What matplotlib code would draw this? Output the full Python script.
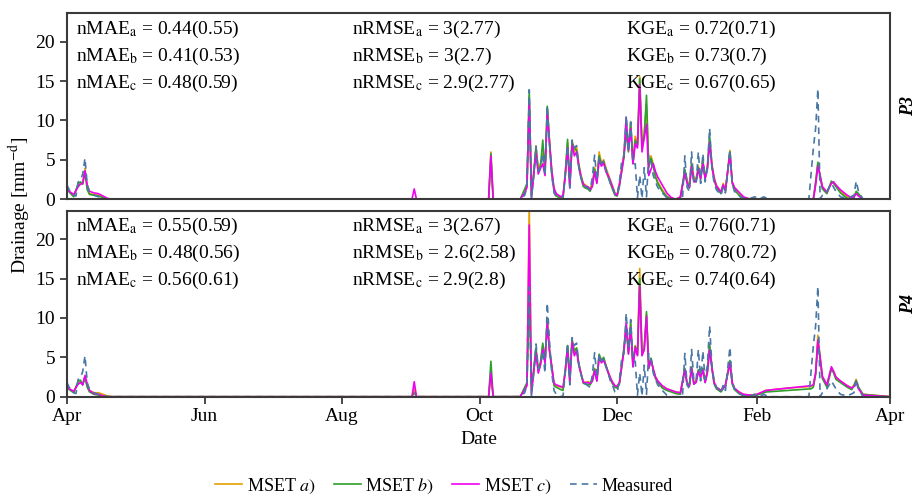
import numpy as np
import matplotlib.pyplot as plt
import matplotlib.dates as mdates

plt.rcParams['font.family'] = ['Liberation Serif', 'DejaVu Serif']
plt.rcParams['mathtext.fontset'] = 'stix'

# day offsets from 1 April (shared by the simulated series of both panels)
days = ([0, 1, 3, 5, 6, 7, 8, 9, 10, 12, 14, 16, 18, 20]
        + [153, 154, 155, 187, 188, 189]
        + [201, 203, 204, 205, 206, 207, 208, 209, 210, 211, 212, 213, 214, 215, 216, 217, 219, 220]
        + list(range(221, 246))
        + list(range(246, 263)) + [264, 266, 268, 270, 272]
        + list(range(274, 289)) + [290, 291, 292, 294, 295, 296, 298, 300, 303, 306, 310, 320, 330]
        + [331, 332, 333, 334, 335, 337, 339, 340, 341, 343, 346, 348, 349, 350, 351, 353, 365])

# P3
p3_a = ([1.7, 1.0, 0.4, 1.8, 2.0, 2.1, 3.9, 1.5, 0.7, 0.6, 0.5, 0.2, 0.0, 0.0]
        + [0, 0, 0, 0, 6.0, 0]
        + [0, 1.0, 1.8, 13.0, 0.8, 3.5, 6.8, 3.8, 4.5, 5.8, 3.8, 11.5, 7.5, 3.5, 1.2, 0.6, 0.2, 0.3]
        + [3.5, 7.2, 2.0, 7.5, 6.0, 6.6, 4.5, 3.0, 2.0, 1.8, 1.5, 1.4, 2.0, 4.0, 2.4, 6.0, 4.6, 5.0, 4.0, 3.2, 2.4, 1.6, 0.8, 0.6, 2.0]
        + [4.0, 5.8, 9.0, 6.5, 9.5, 4.7, 8.0, 7.0, 15.6, 6.5, 8.5, 12.0, 4.2, 5.5, 4.5, 3.0, 2.2, 1.2, 0.4, 0.1, 0.0, 0.2]
        + [3.5, 2.5, 1.6, 4.6, 2.8, 2.5, 4.2, 2.8, 5.0, 2.8, 4.2, 7.5, 4.5, 2.8, 1.8, 0.9, 2.0, 1.2, 6.2, 2.2, 1.4, 0.8, 0.2, 0, 0, 0, 0, 0]
        + [0, 2.0, 4.5, 3.0, 1.5, 0.8, 2.2, 2.0, 1.8, 1.0, 0.3, 0.1, 0.4, 0.9, 0.6, 0, 0])
p3_b = ([1.5, 0.9, 0.3, 2.0, 2.2, 1.9, 3.5, 1.2, 0.6, 0.5, 0.4, 0.2, 0.0, 0.0]
        + [0, 0, 0, 0, 5.8, 0]
        + [0, 1.3, 2.0, 13.8, 0.4, 3.0, 6.5, 3.5, 4.2, 7.5, 3.5, 11.8, 7.0, 3.2, 1.0, 0.4, 0.1, 0.2]
        + [3.2, 7.6, 1.8, 7.2, 6.5, 6.2, 4.0, 2.6, 1.6, 1.4, 1.3, 1.0, 1.8, 3.8, 2.1, 5.5, 4.4, 4.8, 3.6, 2.8, 2.0, 1.2, 0.5, 0.4, 1.6]
        + [3.6, 5.3, 8.5, 6.0, 9.8, 4.5, 7.5, 6.8, 15.3, 6.8, 8.0, 13.2, 4.0, 5.2, 4.2, 2.8, 2.0, 1.0, 0.3, 0.0, 0.0, 0.1]
        + [3.8, 2.2, 1.4, 4.4, 2.4, 2.3, 4.0, 2.5, 4.8, 2.6, 4.0, 8.1, 4.2, 2.4, 1.5, 0.7, 1.8, 1.0, 6.0, 2.0, 1.2, 0.5, 0.1, 0, 0, 0, 0, 0]
        + [0, 2.2, 4.7, 2.8, 1.3, 0.7, 2.3, 2.0, 1.6, 0.8, 0.1, 0.0, 0.2, 1.0, 0.7, 0, 0])
p3_c = ([1.2, 1.0, 0.6, 1.6, 1.9, 2.0, 3.6, 1.8, 1.0, 0.8, 0.7, 0.4, 0.1, 0.0]
        + [0, 1.3, 0, 0, 5.5, 0]
        + [0, 0.8, 1.5, 12.5, 0.2, 3.2, 6.0, 3.2, 3.9, 4.5, 3.0, 11.0, 7.2, 3.6, 1.4, 0.7, 0.3, 0.5]
        + [3.0, 6.5, 1.4, 7.0, 5.5, 6.0, 4.2, 2.8, 1.9, 1.6, 1.6, 1.2, 1.6, 3.5, 2.0, 5.0, 4.2, 4.6, 3.5, 3.0, 2.3, 1.5, 0.7, 0.5, 1.9]
        + [3.5, 5.5, 10.4, 6.2, 9.0, 4.5, 7.0, 6.5, 14.5, 6.0, 7.8, 9.5, 3.0, 3.8, 4.5, 3.5, 2.8, 1.8, 0.8, 0.2, 0.0, 0.3]
        + [3.3, 2.0, 1.5, 4.2, 2.2, 2.2, 3.8, 2.6, 4.5, 2.6, 3.8, 7.2, 4.3, 2.6, 1.7, 0.9, 1.8, 1.1, 5.8, 2.2, 1.5, 0.9, 0.3, 0, 0, 0, 0, 0]
        + [0, 1.8, 4.2, 3.0, 1.6, 0.9, 2.0, 2.2, 1.8, 1.2, 0.5, 0.2, 0.3, 0.7, 0.4, 0, 0])

# P4
p4_a = ([1.6, 1.0, 0.6, 1.8, 1.9, 1.6, 2.6, 1.4, 0.8, 0.5, 0.5, 0.3, 0.1, 0]
        + [0, 1.0, 0, 0, 3.0, 0]
        + [0, 1.0, 1.6, 24.5, 0.8, 3.5, 6.0, 3.2, 4.2, 6.5, 4.5, 9.8, 6.0, 3.8, 1.6, 1.4, 1.2, 1.1]
        + [3.5, 6.3, 2.2, 7.4, 5.5, 6.1, 4.2, 3.0, 1.9, 1.8, 1.9, 1.8, 2.2, 3.6, 2.2, 5.2, 4.5, 4.8, 4.0, 3.2, 2.4, 1.8, 1.4, 1.3, 1.8]
        + [4.0, 6.0, 9.0, 5.8, 9.2, 4.0, 6.5, 5.5, 16.3, 5.5, 6.3, 10.5, 3.8, 4.8, 3.5, 2.5, 2.0, 1.3, 1.0, 0.8, 0.6, 0.5]
        + [3.5, 1.8, 1.5, 3.8, 1.8, 2.0, 3.4, 2.6, 3.6, 1.9, 3.2, 6.2, 3.8, 1.8, 1.2, 0.8, 1.2, 1.5, 4.4, 1.8, 1.0, 0.6, 0.3, 0.2, 0.3, 0.8, 1.1, 1.3]
        + [1.5, 3.0, 7.8, 5.0, 2.5, 1.5, 3.7, 3.2, 2.5, 2.0, 1.4, 1.1, 1.5, 2.2, 1.2, 0.3, 0])
p4_b = ([1.4, 0.9, 0.5, 2.0, 2.1, 1.5, 2.4, 1.2, 0.6, 0.3, 0.2, 0.1, 0, 0]
        + [0, 0.5, 0, 0, 4.5, 0]
        + [0, 1.2, 1.8, 13.0, 1.0, 3.3, 6.2, 3.5, 4.4, 6.8, 4.8, 9.5, 5.8, 3.6, 1.4, 1.2, 0.9, 0.8]
        + [3.4, 6.5, 2.0, 7.2, 5.8, 6.2, 4.0, 2.8, 1.7, 1.6, 1.6, 1.5, 2.0, 3.5, 2.0, 5.4, 4.6, 5.0, 4.0, 3.0, 2.2, 1.6, 1.2, 1.1, 1.6]
        + [3.8, 6.2, 8.8, 5.5, 9.5, 3.8, 6.4, 5.3, 15.0, 5.3, 6.0, 10.8, 3.6, 4.9, 3.4, 2.3, 1.8, 1.1, 0.8, 0.6, 0.4, 0.3]
        + [3.6, 1.6, 1.3, 3.7, 1.6, 1.9, 3.4, 2.6, 3.6, 1.8, 3.3, 6.7, 3.6, 1.6, 1.0, 0.6, 1.0, 1.4, 4.6, 1.6, 0.9, 0.4, 0.2, 0.1, 0.2, 0.6, 0.8, 1.0]
        + [1.2, 2.8, 6.8, 4.8, 2.3, 1.2, 3.5, 3.0, 2.2, 1.8, 1.2, 0.9, 1.4, 2.0, 1.2, 0.3, 0])
p4_c = ([1.3, 1.0, 0.7, 1.6, 1.8, 1.5, 2.7, 1.6, 0.8, 0.4, 0.3, 0.1, 0, 0]
        + [0, 1.9, 0, 0, 3.0, 0]
        + [0, 0.9, 1.4, 21.8, 0.3, 3.2, 5.6, 3.0, 4.0, 6.0, 4.2, 9.4, 5.8, 3.9, 1.7, 1.5, 1.3, 1.2]
        + [3.2, 6.0, 1.8, 7.0, 5.2, 5.8, 4.0, 2.9, 1.8, 1.8, 1.8, 1.7, 2.0, 3.3, 2.0, 5.0, 4.3, 4.6, 3.9, 3.1, 2.4, 1.8, 1.4, 1.3, 1.8]
        + [3.8, 5.8, 9.5, 5.4, 8.8, 3.8, 6.2, 5.2, 14.0, 5.2, 6.0, 10.2, 3.6, 4.6, 3.5, 2.5, 2.0, 1.4, 1.0, 0.8, 0.6, 0.5]
        + [3.4, 1.6, 1.4, 3.6, 1.6, 1.8, 3.2, 2.4, 3.4, 1.8, 3.0, 5.9, 3.7, 1.8, 1.2, 0.8, 1.1, 1.5, 4.2, 1.8, 1.1, 0.6, 0.3, 0.2, 0.3, 0.8, 1.1, 1.4]
        + [1.5, 3.0, 7.2, 5.0, 2.6, 1.5, 3.8, 3.2, 2.5, 2.0, 1.4, 1.1, 1.3, 1.8, 1.0, 0.2, 0])

# measured drainage (same gauge series drawn in both panels)
meas_days = ([0, 1, 2, 3, 4, 5, 6, 7, 8, 9, 10, 12, 14, 16, 18]
             + [201, 203, 204, 205, 206, 207, 208, 209, 210, 211, 212, 213, 214, 215, 216, 217, 219, 220]
             + list(range(221, 252))
             + [252, 253, 254, 255, 256, 257, 258, 259, 260, 261, 262, 264, 266, 268, 270, 272, 273]
             + list(range(274, 289))
             + [290, 291, 292, 294, 295, 296, 298, 300, 302, 305, 307, 309, 311, 329, 331, 332, 333,
                334, 335, 337, 339, 341, 343, 346, 349, 350, 351, 353])
meas = ([1.8, 1.2, 0.8, 0.5, 0.4, 2.2, 2.4, 3.2, 5.2, 1.8, 0.9, 0.5, 0.3, 0.1, 0]
        + [0, 0.5, 1.5, 13.9, 0.1, 3.0, 6.7, 3.5, 4.0, 5.8, 3.0, 11.9, 7.0, 3.0, 0.8, 0.3, 0.0, 0.1]
        + [3.2, 6.8, 1.5, 7.5, 6.5, 6.8, 4.2, 2.8, 1.8, 1.6, 1.4, 1.2, 2.8, 5.6, 2.5, 5.4, 4.5, 4.8,
           3.8, 3.0, 2.0, 1.4, 0.6, 0.5, 2.2, 4.8, 5.5, 10.6, 6.0, 9.8, 4.5]
        + [4.5, 0.2, 3.0, 0.1, 4.0, 0.3, 5.5, 5.0, 3.0, 2.2, 1.5, 0.8, 0.2, 0, 0, 0, 0.2]
        + [5.5, 1.5, 1.0, 6.0, 2.0, 2.0, 6.0, 2.0, 5.8, 2.2, 4.0, 9.0, 4.0, 2.0, 1.2]
        + [0.5, 1.5, 0.8, 6.3, 2.0, 1.0, 0.4, 0.1, 0, 0.3, 0, 0.3, 0, 0, 6.5, 9.0, 14.0,
           0.0, 0.5, 1.0, 2.0, 1.0, 0.3, 0.1, 0.5, 2.3, 1.0, 0])

stats_p3 = [
    [r'nMAE$_\mathrm{a}$ = 0.44(0.55)', r'nRMSE$_\mathrm{a}$ = 3(2.77)', r'KGE$_\mathrm{a}$ = 0.72(0.71)'],
    [r'nMAE$_\mathrm{b}$ = 0.41(0.53)', r'nRMSE$_\mathrm{b}$ = 3(2.7)', r'KGE$_\mathrm{b}$ = 0.73(0.7)'],
    [r'nMAE$_\mathrm{c}$ = 0.48(0.59)', r'nRMSE$_\mathrm{c}$ = 2.9(2.77)', r'KGE$_\mathrm{c}$ = 0.67(0.65)'],
]
stats_p4 = [
    [r'nMAE$_\mathrm{a}$ = 0.55(0.59)', r'nRMSE$_\mathrm{a}$ = 3(2.67)', r'KGE$_\mathrm{a}$ = 0.76(0.71)'],
    [r'nMAE$_\mathrm{b}$ = 0.48(0.56)', r'nRMSE$_\mathrm{b}$ = 2.6(2.58)', r'KGE$_\mathrm{b}$ = 0.78(0.72)'],
    [r'nMAE$_\mathrm{c}$ = 0.56(0.61)', r'nRMSE$_\mathrm{c}$ = 2.9(2.8)', r'KGE$_\mathrm{c}$ = 0.74(0.64)'],
]

start = np.datetime64('2022-04-01')
t = start + np.array(days).astype('timedelta64[D]')
t_meas = start + np.array(meas_days).astype('timedelta64[D]')

col_a = '#E69F00'
col_b = '#2CA02C'
col_c = '#F000F0'
col_m = '#4A78A6'
spine_col = '#3A3A3A'

fig, axes = plt.subplots(2, 1, sharex=True, figsize=(9.17, 4.95), dpi=100)
fig.subplots_adjust(left=0.073, right=0.9706, top=0.973, bottom=0.1986, hspace=0.063)

panels = [('P3', p3_a, p3_b, p3_c, stats_p3), ('P4', p4_a, p4_b, p4_c, stats_p4)]
for ax, (name, a, b, c, stats) in zip(axes, panels):
    ax.plot(t, a, color=col_a, lw=1.2, label='MSET $\\it{a)}$')
    ax.plot(t, b, color=col_b, lw=1.2, label='MSET $\\it{b)}$')
    ax.plot(t, c, color=col_c, lw=1.2, label='MSET $\\it{c)}$')
    ax.plot(t_meas, meas, color=col_m, lw=1.2, dashes=(4, 3), label='Measured')
    ax.set_ylim(0, 23.6)
    ax.set_yticks([0, 5, 10, 15, 20])
    for s in ax.spines.values():
        s.set_color(spine_col)
        s.set_linewidth(1.5)
    ax.tick_params(direction='out', length=5, width=1.3, color=spine_col, labelsize=14)
    for j, xpos in enumerate([0.011, 0.346, 0.679]):
        for i, ypos in enumerate([0.915, 0.77, 0.625]):
            ax.text(xpos, ypos, stats[i][j], transform=ax.transAxes, fontsize=14,
                    ha='left', va='center')
    ax.text(1.022, 0.5, name, transform=ax.transAxes, rotation=90, ha='center',
            va='center', fontsize=13, fontweight='bold', fontstyle='italic')

axes[0].tick_params(axis='x', bottom=False)
ax = axes[1]
ax.set_xlim(np.datetime64('2022-04-01'), np.datetime64('2023-04-01'))
ax.xaxis.set_major_locator(mdates.MonthLocator(bymonth=[2, 4, 6, 8, 10, 12]))
ax.xaxis.set_major_formatter(mdates.DateFormatter('%b'))
ax.set_xlabel('Date', fontsize=14, labelpad=4)

fig.text(0.022, 0.586, r'Drainage [mm$^\mathrm{-d}$]', rotation=90, ha='center', va='center', fontsize=14)

handles, labels = axes[0].get_legend_handles_labels()
fig.legend(handles, labels, loc='center', bbox_to_anchor=(0.484, 0.018), ncol=4,
           frameon=False, fontsize=13, handlelength=1.5, handletextpad=0.25,
           columnspacing=1.0)

fig.savefig('out.png', dpi=100)
